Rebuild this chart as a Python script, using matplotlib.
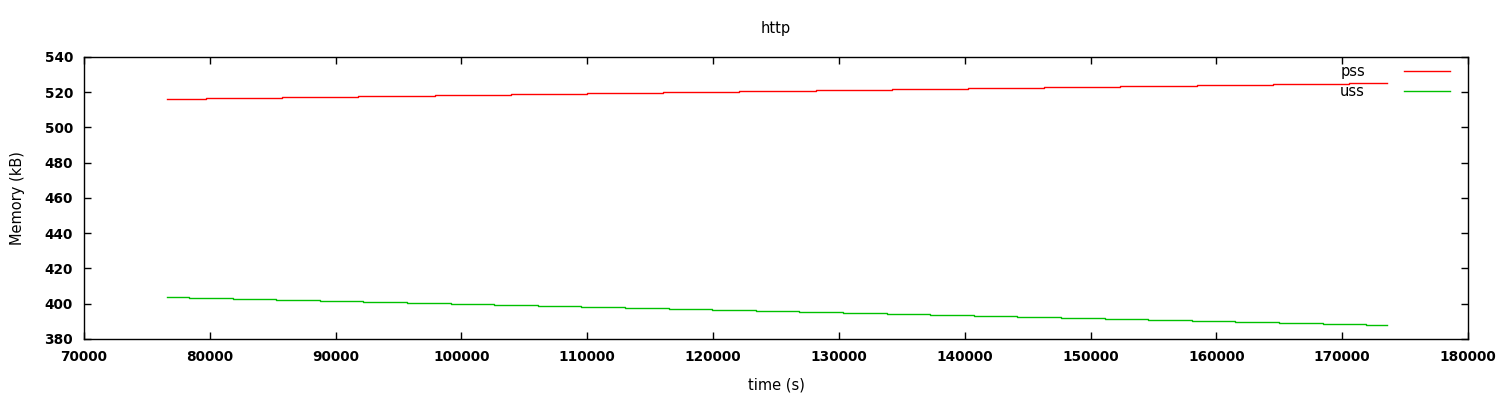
import matplotlib
matplotlib.use("Agg")
import matplotlib.pyplot as plt

# pss: start/end time, times where the value steps, and the levels between steps
pss_start, pss_end = 76600, 173550
pss_step_times = [79700, 85760, 91810, 97870, 103920, 109980, 116040, 122090,
                  128150, 134200, 140260, 146320, 152370, 158430, 164480, 170540]
pss_levels = [516.0, 516.6, 517.1, 517.7, 518.3, 518.8, 519.4, 520.0, 520.6,
              521.1, 521.7, 522.3, 522.8, 523.4, 524.0, 524.5, 525.1]

# uss
uss_start, uss_end = 76600, 173550
uss_step_times = [78350, 81810, 85280, 88740, 92210, 95670, 99140, 102600,
                  106070, 109530, 113000, 116460, 119930, 123390, 126860, 130320,
                  133790, 137250, 140720, 144180, 147650, 151110, 154580, 158040,
                  161510, 164970, 168440, 171900]
uss_levels = [403.7, 403.1, 402.6, 402.0, 401.4, 400.9, 400.3, 399.7, 399.1,
              398.6, 398.0, 397.4, 396.9, 396.3, 395.7, 395.2, 394.6, 394.0,
              393.4, 392.9, 392.3, 391.7, 391.2, 390.6, 390.0, 389.4, 388.9,
              388.3, 387.7]

x_ticks = list(range(70000, 180001, 10000))
y_ticks = list(range(380, 541, 20))

plt.rcParams['font.family'] = ['DejaVu Sans']
fs = 10.5

fig = plt.figure(figsize=(15, 4), dpi=100)
ax = fig.add_axes([0.056, 0.1525, 0.9227, 0.705])

ax.plot([pss_start] + pss_step_times + [pss_end], pss_levels + [pss_levels[-1]],
        drawstyle='steps-post', color='#ff0000', lw=1.0, label='pss')
ax.plot([uss_start] + uss_step_times + [uss_end], uss_levels + [uss_levels[-1]],
        drawstyle='steps-post', color='#00c000', lw=1.0, label='uss')

ax.set_xlim(70000, 180000)
ax.set_ylim(380, 540)
ax.set_xticks(x_ticks)
ax.set_yticks(y_ticks)
ax.tick_params(direction='in', length=5, width=1, top=True, right=True,
               labelsize=9.8, pad=8)
for lbl in ax.get_xticklabels() + ax.get_yticklabels():
    lbl.set_fontweight('bold')
for sp in ax.spines.values():
    sp.set_linewidth(1)

ax.set_title('http', fontsize=fs, pad=17)
ax.set_xlabel('time (s)', fontsize=fs, labelpad=10)
ax.set_ylabel('Memory (kB)', fontsize=fs, labelpad=14)

ax.legend(loc='upper right', bbox_to_anchor=(0.993, 1.005), frameon=False,
          markerfirst=False, fontsize=fs, handlelength=3.1, handletextpad=2.7,
          labelspacing=0.3, borderaxespad=0.2)

fig.savefig('out.png', dpi=100)
